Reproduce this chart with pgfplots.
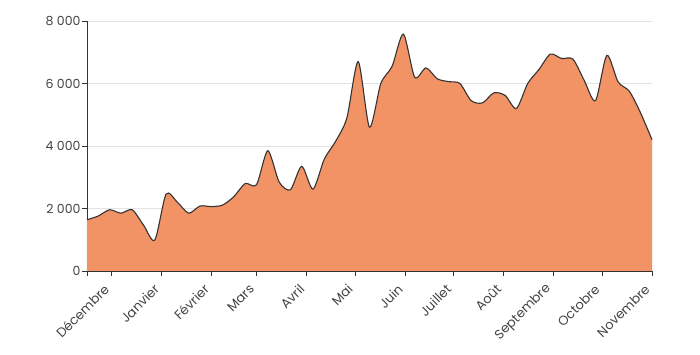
\documentclass[border=0pt]{standalone}
\usepackage{pgfplots}
\pgfplotsset{compat=1.18}
\usepackage{fontspec}
\setmainfont{Poppins}
\definecolor{areafill}{HTML}{F29366}
\definecolor{axcol}{HTML}{333333}
\definecolor{txtcol}{HTML}{444444}
\definecolor{gridcol}{HTML}{E3E3E3}
\begin{document}
\begin{tikzpicture}[x=1pt,y=1pt]
\useasboundingbox (-87,-84) rectangle (613,271);
\begin{axis}[
  at={(0,0)}, anchor=south west,
  scale only axis, width=565pt, height=250pt,
  xmin=0, xmax=350, ymin=0, ymax=8000,
  axis x line*=bottom, axis y line*=left,
  axis line style={axcol, line width=0.9pt, -},
  tick align=outside, major tick length=5pt,
  tick style={axcol, line width=0.9pt},
  xtick={0,15,46,77,105,136,166,197,227,258,289,319,350},
  xticklabels={,Décembre,Janvier,Février,Mars,Avril,Mai,Juin,Juillet,Août,Septembre,Octobre,Novembre},
  x tick label style={anchor=east, inner sep=0pt, xshift=-6pt, yshift=-8pt, rotate=45, xshift=-1pt, yshift=-3pt, font=\fontsize{13}{15}\selectfont, text=txtcol},
  ytick={0,2000,4000,6000,8000},
  yticklabels={0,2 000,4 000,6 000,8 000},
  y tick label style={font=\fontsize{12.5}{14}\selectfont, text=txtcol, xshift=2pt},
  extra y ticks={8050}, extra y tick labels={},
  extra y tick style={major tick length=3pt, grid=none},
  ymajorgrids, grid style={gridcol, line width=0.8pt},
  clip=false,
]
\addplot[fill=areafill, draw=none, smooth, tension=0.45] table {
x y
0 1640
7 1760
14 1960
21 1850
28 1960
35 1470
42 990
49 2460
56 2200
63 1850
70 2080
77 2060
84 2110
91 2380
98 2800
105 2760
112 3850
119 2850
126 2600
133 3350
140 2620
147 3580
154 4150
161 4900
168 6700
175 4600
182 6000
189 6550
196 7580
203 6200
210 6500
217 6150
224 6060
231 6000
238 5450
245 5380
252 5700
259 5620
266 5200
273 6000
280 6450
287 6940
294 6800
301 6780
308 6100
315 5450
322 6900
329 6050
336 5750
343 5050
350 4200
} \closedcycle;
\addplot[draw=axcol, line width=1.1pt, smooth, tension=0.45] table {
x y
0 1640
7 1760
14 1960
21 1850
28 1960
35 1470
42 990
49 2460
56 2200
63 1850
70 2080
77 2060
84 2110
91 2380
98 2800
105 2760
112 3850
119 2850
126 2600
133 3350
140 2620
147 3580
154 4150
161 4900
168 6700
175 4600
182 6000
189 6550
196 7580
203 6200
210 6500
217 6150
224 6060
231 6000
238 5450
245 5380
252 5700
259 5620
266 5200
273 6000
280 6450
287 6940
294 6800
301 6780
308 6100
315 5450
322 6900
329 6050
336 5750
343 5050
350 4200
};
\end{axis}
\end{tikzpicture}
\end{document}
